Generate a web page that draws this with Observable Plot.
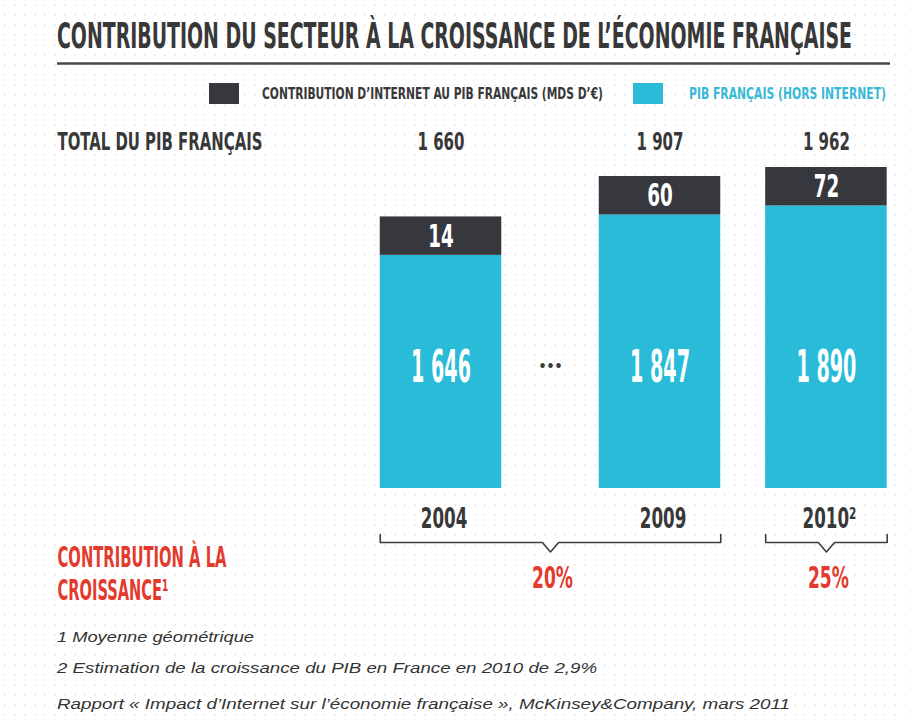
<!DOCTYPE html>
<html><head><meta charset="utf-8">
<script src="https://cdn.jsdelivr.net/npm/d3@7"></script>
<script src="https://cdn.jsdelivr.net/npm/@observablehq/plot@0.6"></script>
<style>
html,body{margin:0;padding:0;background:#fff;}
#page{position:relative;width:905px;height:716px;overflow:hidden;background-color:#fff;
 background-image:radial-gradient(circle,#efefef 0.9px,transparent 1.3px);background-size:10px 10px;}
#page svg{position:absolute;left:0;overflow:visible;}
svg text{font-stretch:condensed;}
</style></head><body><div id="page"></div>
<script>
// ---- data ----
const categories = ["2004", "2009", "2010"];
const yearLabels = ["2004", "2009", "2010²"];
const internetValues = [14, 60, 72];          // Mds d'€
const pibHorsInternet = [1646, 1847, 1890];
const pibTotal = [1660, 1907, 1962];
const growthGroups = [["2004", "2009"], ["2010"]];
const growthLabels = ["20%", "25%"];

const titleText = "CONTRIBUTION DU SECTEUR À LA CROISSANCE DE L’ÉCONOMIE FRANÇAISE";
const legendLabels = ["CONTRIBUTION D’INTERNET AU PIB FRANÇAIS (MDS D’€)", "PIB FRANÇAIS (HORS INTERNET)"];
const totalRowLabel = "TOTAL DU PIB FRANÇAIS";
const growthRowLabel = ["CONTRIBUTION À LA", "CROISSANCE¹"];
const footnotes = [
  "1 Moyenne géométrique",
  "2 Estimation de la croissance du PIB en France en 2010 de 2,9%",
  "Rapport « Impact d’Internet sur l’économie française », McKinsey&Company, mars 2011"
];

// ---- layout / style ----
const COND = "'DejaVu Sans Condensed','DejaVu Sans',sans-serif";
const ITAL = "'Liberation Sans','Noto Sans',sans-serif";
const DARK = "#37383d", CYAN = "#29bbd8", RED = "#e23b2e", INK = "#383838";
const slot = {"2004": 0, "2009": 1, "2010": 1.76};
const barHalf = 0.2774;
const band = 235;            // height of the dark label band (y units)
const innerLabelY = 740;
const braceY = -330, braceEndY = -281, braceTipY = -388, notch = 0.037;

const fmt = d => d >= 1000 ? `${Math.floor(d / 1000)} ${String(d % 1000).padStart(3, "0")}` : `${d}`;

const rows = categories.map((c, i) => ({
  cat: c, s: slot[c], internet: internetValues[i], hors: pibHorsInternet[i],
  total: pibTotal[i], year: yearLabels[i]
}));
const braces = growthGroups.map((g, i) => {
  const x1 = slot[g[0]] - barHalf, x2 = slot[g[g.length - 1]] + barHalf;
  const xm = (slot[g[0]] + slot[g[g.length - 1]]) / 2;
  return {label: growthLabels[i], xm, pts: [[x1, braceEndY], [x1, braceY], [xm - notch, braceY], [xm, braceTipY], [xm + notch, braceY], [x2, braceY], [x2, braceEndY]].map(([x, y]) => ({x, y, g: i}))};
});

const page = document.getElementById("page");

// condense a group of texts: shrink the font so the reference text has the target width,
// then stretch vertically back to the original cap height
function fitNodes(nodes, refText, target) {
  if (!nodes.length) return;
  const ref = nodes.find(n => n.textContent === refText) || nodes[0];
  const fs0 = parseFloat(getComputedStyle(ref).fontSize);
  const k = target / ref.getComputedTextLength();
  nodes.forEach(n => { n.style.fontSize = (fs0 * k) + "px"; });
  const k2 = target / ref.getComputedTextLength();
  const ky = 1 / k;
  nodes.forEach(n => {
    const w = n.getComputedTextLength();
    n.setAttribute("textLength", w * k2);
    n.setAttribute("lengthAdjust", "spacingAndGlyphs");
    const tr = n.getAttribute("transform");
    if (tr) {
      n.setAttribute("transform", tr + ` scale(1,${ky})`);
    } else {
      const x = +(n.getAttribute("x") || 0), y = +(n.getAttribute("y") || 0);
      n.setAttribute("transform", `translate(${x},${y}) scale(1,${ky}) translate(${-x},${-y})`);
    }
  });
}

// ---- header ----
const head = d3.create("svg").attr("width", 905).attr("height", 120).style("top", "0px");
const tt = head.append("text").attr("x", 57).attr("y", 48.5).attr("font-family", COND).attr("font-weight", "bold")
  .attr("font-size", 36).attr("fill", INK).text(titleText);
head.append("line").attr("x1", 57).attr("x2", 890).attr("y1", 63.5).attr("y2", 63.5).attr("stroke", "#474747").attr("stroke-width", 2.5);
head.append("rect").attr("x", 209).attr("y", 83).attr("width", 30).attr("height", 21).attr("fill", DARK);
head.append("rect").attr("x", 633).attr("y", 83).attr("width", 30).attr("height", 21).attr("fill", CYAN);
const l1 = head.append("text").attr("x", 262).attr("y", 99).attr("font-family", COND).attr("font-weight", "bold")
  .attr("font-size", 16.5).attr("fill", INK).text(legendLabels[0]);
const l2 = head.append("text").attr("x", 689).attr("y", 99).attr("font-family", COND).attr("font-weight", "bold")
  .attr("font-size", 16.5).attr("fill", "#3ab9d6").text(legendLabels[1]);
page.appendChild(head.node());
fitNodes([tt.node()], titleText, 795);
fitNodes([l1.node()], legendLabels[0], 341);
fitNodes([l2.node()], legendLabels[1], 197);

// ---- chart ----
const chart = Plot.plot({
  width: 905, height: 490, margin: 0,
  style: {background: "transparent", overflow: "visible"},
  x: {type: "linear", domain: [0, 1], range: [440.5, 659.5], axis: null},
  y: {type: "linear", domain: [0, 1962], range: [368, 47], axis: null},
  marks: [
    Plot.rect(rows, {x1: d => d.s - barHalf, x2: d => d.s + barHalf, y1: () => 0, y2: d => d.total - band, fill: CYAN}),
    Plot.rect(rows, {x1: d => d.s - barHalf, x2: d => d.s + barHalf, y1: d => d.total - band, y2: d => d.total, fill: DARK}),
    Plot.text(rows, {x: "s", y: "total", dy: 19.5, text: d => fmt(d.internet), fill: "white", fontFamily: COND, fontWeight: "bold", fontSize: 32, lineAnchor: "middle", ariaDescription: "internetLabels"}),
    Plot.text(rows, {x: "s", y: () => innerLabelY, text: d => fmt(d.hors), fill: "white", fontFamily: COND, fontWeight: "bold", fontSize: 44, lineAnchor: "middle", ariaDescription: "horsLabels"}),
    Plot.text(["•••"], {x: () => (slot["2004"] + slot["2009"]) / 2, y: () => innerLabelY, dy: -1, text: d => d, fill: "#3a3a3a", fontFamily: "'DejaVu Sans',sans-serif", fontWeight: "bold", fontSize: 14, lineAnchor: "middle", ariaDescription: "dots"}),
    Plot.text(rows, {x: "s", frameAnchor: "top", dy: 21.5, text: d => fmt(d.total), fill: INK, fontFamily: COND, fontWeight: "bold", fontSize: 25, lineAnchor: "middle", ariaDescription: "totals"}),
    Plot.text([totalRowLabel], {frameAnchor: "top-left", dx: 57, dy: 21.5, text: d => d, textAnchor: "start", fill: INK, fontFamily: COND, fontWeight: "bold", fontSize: 25, lineAnchor: "middle", ariaDescription: "totalLabel"}),
    Plot.text(rows, {x: "s", y: () => 0, dy: 30.5, dx: 3, text: "year", fill: INK, fontFamily: COND, fontWeight: "bold", fontSize: 28.5, lineAnchor: "middle", ariaDescription: "years"}),
    Plot.line(braces.flatMap(b => b.pts), {x: "x", y: "y", z: "g", stroke: "#3d3d3d", strokeWidth: 1.6, strokeLinejoin: "round"}),
    Plot.text(braces, {x: "xm", y: () => 0, dy: 90, dx: 2, text: "label", fill: RED, fontFamily: COND, fontWeight: "bold", fontSize: 30, lineAnchor: "middle", ariaDescription: "pct"}),
    Plot.text([growthRowLabel[0]], {frameAnchor: "top-left", dx: 57, dy: 437.5, text: d => d, textAnchor: "start", fill: RED, fontFamily: COND, fontWeight: "bold", fontSize: 27.5, lineAnchor: "middle", ariaDescription: "heading1"}),
    Plot.text([growthRowLabel[1]], {frameAnchor: "top-left", dx: 57, dy: 470.5, text: d => d, textAnchor: "start", fill: RED, fontFamily: COND, fontWeight: "bold", fontSize: 27.5, lineAnchor: "middle", ariaDescription: "heading2"})
  ]
});
chart.style.position = "absolute";
chart.style.top = "120px";
chart.style.left = "0px";
page.appendChild(chart);

const fitSpec = {
  internetLabels: ["14", 25.5],
  horsLabels: ["1 646", 60],
  totals: ["1 660", 47],
  totalLabel: [totalRowLabel, 205],
  years: ["2004", 46.5],
  pct: ["20%", 41],
  heading1: [growthRowLabel[0], 169],
  heading2: [growthRowLabel[1], 111]
};
chart.querySelectorAll("g[aria-description]").forEach(g => {
  const spec = fitSpec[g.getAttribute("aria-description")];
  if (spec) fitNodes(Array.from(g.querySelectorAll("text")), spec[0], spec[1]);
});

// ---- footer ----
const foot = d3.create("svg").attr("width", 905).attr("height", 106).style("top", "610px");
const fw = [197, 540, 733], fy = [32, 63, 99];
footnotes.forEach((t, i) => {
  const n = foot.append("text").attr("x", 57).attr("y", fy[i]).attr("font-family", ITAL).attr("font-style", "italic")
    .attr("font-size", 15).attr("fill", "#333").text(t);
  n.node().dataset.w = fw[i];
});
page.appendChild(foot.node());
foot.selectAll("text").each(function () {
  const n = this, w = +n.dataset.w, k = w / n.getComputedTextLength();
  n.setAttribute("textLength", w);
  n.setAttribute("lengthAdjust", "spacingAndGlyphs");
});
</script></body></html>
